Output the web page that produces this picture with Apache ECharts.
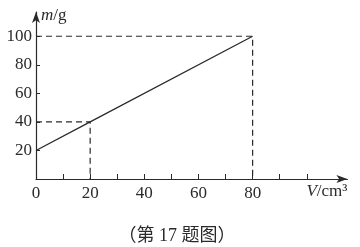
<!DOCTYPE html>
<html><head><meta charset="utf-8">
<script src="https://cdn.jsdelivr.net/npm/echarts@6/dist/echarts.min.js"></script>
<style>html,body{margin:0;padding:0;background:#fff}#c{width:360px;height:247px}</style>
</head><body><div id="c"></div>
<script>
// data
const lineData = [[0, 20], [20, 40], [80, 100]];
const guideHigh = [[0, 100], [80, 100], [80, 0]];
const guideLow = [[0, 40], [20, 40], [20, 0]];
const xTickValues = [0, 10, 20, 30, 40, 50, 60, 70, 80, 90, 100];
const xLabelValues = [0, 20, 40, 60, 80];
const yTickValues = [20, 40, 60, 80, 100];
const yLabelValues = [20, 40, 60, 80, 100];
const caption = '（第 17 题图）';

const ink = '#2a2a2a';
const serif = '"Liberation Serif", "Times New Roman", serif';
const fs = 17;
const chart = echarts.init(document.getElementById('c'), null, {renderer: 'canvas'});
chart.setOption({
  animation: false,
  backgroundColor: '#fff',
  grid: {left: 36, right: 12.6, top: 12, bottom: 68},
  title: {
    text: caption, left: 172, top: 222, textAlign: 'center',
    textStyle: {fontFamily: '"Liberation Serif", "Noto Sans CJK SC", serif', fontSize: 18, fontWeight: 'normal', color: ink}
  },
  xAxis: {
    type: 'value', min: 0, max: 115, interval: 10,
    splitLine: {show: false},
    axisLine: {show: true, symbol: ['none', 'arrow'], symbolSize: [6, 11], lineStyle: {color: ink, width: 1.2}},
    axisTick: {show: true, inside: true, length: 5, customValues: xTickValues, lineStyle: {color: ink, width: 1}},
    axisLabel: {customValues: xLabelValues, fontFamily: serif, fontSize: fs, color: ink, margin: 6},
    name: '{i|V}/cm³', nameLocation: 'end', nameGap: 0,
    nameTextStyle: {
      align: 'right', verticalAlign: 'top', padding: [4, 0, 0, 0],
      fontFamily: serif, fontSize: fs, color: ink,
      rich: {i: {fontFamily: serif, fontStyle: 'italic', fontSize: fs, color: ink}}
    }
  },
  yAxis: {
    type: 'value', min: 0, max: 117, interval: 20,
    splitLine: {show: false},
    axisLine: {show: true, symbol: ['none', 'arrow'], symbolSize: [6, 11], lineStyle: {color: ink, width: 1.2}},
    axisTick: {show: true, inside: true, length: 4, customValues: yTickValues, lineStyle: {color: ink, width: 1}},
    axisLabel: {customValues: yLabelValues, fontFamily: serif, fontSize: fs, color: ink, margin: 4},
    name: '{i|m}/g', nameLocation: 'end', nameGap: -4,
    nameTextStyle: {
      align: 'left', verticalAlign: 'middle', padding: [0, 0, 0, 5],
      fontFamily: serif, fontSize: fs, color: ink,
      rich: {i: {fontFamily: serif, fontStyle: 'italic', fontSize: fs, color: ink}}
    }
  },
  series: [
    {type: 'line', data: guideHigh, symbol: 'none', silent: true,
     lineStyle: {color: ink, width: 1.2, type: [6, 4]}},
    {type: 'line', data: guideLow, symbol: 'none', silent: true,
     lineStyle: {color: ink, width: 1.2, type: [6, 4]}},
    {type: 'line', data: lineData, symbol: 'none', silent: true,
     lineStyle: {color: ink, width: 1.3}}
  ]
});
</script></body></html>
